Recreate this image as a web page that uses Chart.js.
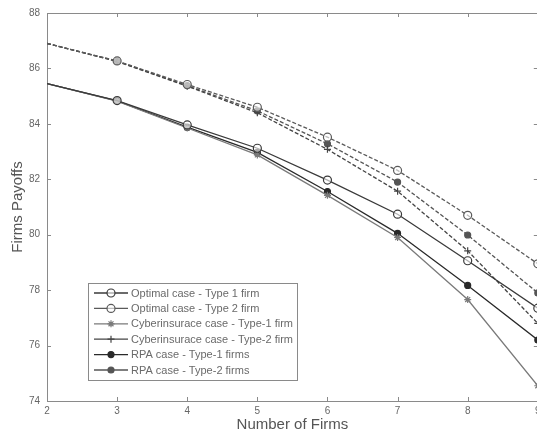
<!DOCTYPE html>
<html lang="en">
<head>
<meta charset="UTF-8">
<title>Firms Payoffs vs Number of Firms</title>
<script src="https://cdn.jsdelivr.net/npm/chart.js"></script>
<style>
  html, body { margin: 0; padding: 0; background: #fff; overflow: hidden; }
  #wrap { width: 543px; height: 436px; }
</style>
</head>
<body>
<div id="wrap"><canvas id="payoffChart" width="543" height="436"></canvas></div>
<script>
// values
const firms = [2, 3, 4, 5, 6, 7, 8, 9];
const optimalType1 = [85.45, 84.84, 83.96, 83.12, 81.97, 80.74, 79.06, 77.35];
const optimalType2 = [86.9, 86.27, 85.42, 84.6, 83.52, 82.32, 80.7, 78.95];
const cyberType1 = [85.45, 84.82, 83.85, 82.88, 81.42, 79.9, 77.66, 74.55];
const cyberType2 = [86.9, 86.25, 85.36, 84.4, 83.08, 81.57, 79.42, 76.8];
const rpaType1 = [85.45, 84.83, 83.88, 82.97, 81.56, 80.05, 78.17, 76.2];
const rpaType2 = [86.9, 86.26, 85.38, 84.47, 83.28, 81.9, 79.99, 77.9];
const yTicks = [74, 76, 78, 80, 82, 84, 86, 88];

const labels = [
  'Optimal case - Type 1 firm',
  'Optimal case - Type 2 firm',
  'Cyberinsurace case - Type-1 firm',
  'Cyberinsurace case - Type-2 firm',
  'RPA case - Type-1 firms',
  'RPA case - Type-2 firms'
];

const FONT = '"Liberation Sans", Arial, sans-serif';

function pts(vals) {
  return vals.map((v, i) => ({ x: firms[i], y: v }));
}

function series(label, vals, color, marker, filled, dashed, radius) {
  return {
    label: label,
    data: pts(vals),
    borderColor: color,
    backgroundColor: filled ? color : '#ffffff',
    pointBorderColor: color,
    pointBackgroundColor: filled ? color : 'rgba(255,255,255,0.6)',
    pointStyle: marker,
    // no marker sits on the left axis in the original
    pointRadius: firms.map(f => (f === 2 ? 0 : radius)),
    legendRadius: radius,
    pointBorderWidth: 1.2,
    borderWidth: 1.3,
    borderDash: dashed ? [4, 2] : [],
    tension: 0
  };
}

const datasets = [
  series(labels[0], optimalType1, '#3a3a3a', 'circle', false, false, 4),
  series(labels[1], optimalType2, '#5a5a5a', 'circle', false, true, 4),
  series(labels[2], cyberType1, '#7a7a7a', 'star', false, false, 3.5),
  series(labels[3], cyberType2, '#444444', 'cross', false, true, 3.5),
  series(labels[4], rpaType1, '#2a2a2a', 'circle', true, false, 3),
  series(labels[5], rpaType2, '#555555', 'circle', true, true, 3)
];

// frame with inward ticks (matlab look) and the boxed legend inside the plot
const frameAndLegend = {
  id: 'frameAndLegend',
  beforeDatasetsDraw(chart) {
    const ctx = chart.ctx;
    const a = chart.chartArea;
    const xs = chart.scales.x, ys = chart.scales.y;
    ctx.save();
    ctx.strokeStyle = '#8a8a8a';
    ctx.lineWidth = 1;
    ctx.strokeRect(a.left + 0.5, a.top + 0.5, a.right - a.left, a.bottom - a.top);
    ctx.beginPath();
    firms.forEach(v => {
      const px = Math.round(xs.getPixelForValue(v)) + 0.5;
      ctx.moveTo(px, a.bottom); ctx.lineTo(px, a.bottom - 4);
      ctx.moveTo(px, a.top); ctx.lineTo(px, a.top + 4);
    });
    yTicks.forEach(v => {
      const py = Math.round(ys.getPixelForValue(v)) + 0.5;
      ctx.moveTo(a.left, py); ctx.lineTo(a.left + 4, py);
      ctx.moveTo(a.right, py); ctx.lineTo(a.right - 4, py);
    });
    ctx.stroke();
    ctx.restore();
  },
  afterDatasetsDraw(chart) {
    const ctx = chart.ctx;
    const bx = 88, by = 283, bw = 209, bh = 97;
    ctx.save();
    ctx.fillStyle = '#ffffff';
    ctx.fillRect(bx, by, bw, bh);
    ctx.strokeStyle = '#8a8a8a';
    ctx.lineWidth = 1;
    ctx.strokeRect(bx + 0.5, by + 0.5, bw, bh);
    ctx.beginPath();
    ctx.rect(bx + 1, by + 1, bw - 1, bh - 1);
    ctx.clip();
    chart.data.datasets.forEach((ds, i) => {
      const y = by + 10 + i * 15.4;
      ctx.strokeStyle = ds.borderColor;
      ctx.lineWidth = 1.3;
      ctx.setLineDash([]);
      ctx.beginPath();
      ctx.moveTo(bx + 6, y);
      ctx.lineTo(bx + 40, y);
      ctx.stroke();
      ctx.fillStyle = ds.pointBackgroundColor;
      ctx.strokeStyle = ds.pointBorderColor;
      ctx.lineWidth = 1.2;
      Chart.helpers.drawPoint(ctx, {
        pointStyle: ds.pointStyle,
        radius: ds.legendRadius,
        borderWidth: 1.2
      }, bx + 23, y);
      ctx.fillStyle = '#6a6a6a';
      ctx.font = '11px ' + FONT;
      ctx.textBaseline = 'middle';
      ctx.fillText(ds.label, bx + 43, y + 0.5);
    });
    ctx.restore();
  }
};

new Chart(document.getElementById('payoffChart'), {
  type: 'line',
  data: { datasets: datasets },
  options: {
    responsive: false,
    animation: false,
    layout: { padding: { top: 13, right: 3, left: 0, bottom: 0 } },
    plugins: {
      legend: { display: false },
      tooltip: { enabled: false }
    },
    scales: {
      x: {
        type: 'linear',
        min: 2,
        max: 9,
        grid: { display: false, drawTicks: false },
        border: { display: false },
        afterFit: s => { s.height = 35; s.paddingLeft = 0; s.paddingRight = 0; },
        ticks: {
          stepSize: 1,
          padding: 4,
          color: '#666',
          font: { family: FONT, size: 10 }
        },
        title: {
          display: true,
          text: 'Number of Firms',
          color: '#555',
          padding: { top: 0, bottom: 2 },
          font: { family: FONT, size: 15 }
        }
      },
      y: {
        min: 74,
        max: 88,
        grid: { display: false, drawTicks: false },
        border: { display: false },
        afterFit: s => { s.width = 47; s.paddingTop = 0; s.paddingBottom = 0; },
        afterBuildTicks: s => { s.ticks = yTicks.map(v => ({ value: v })); },
        ticks: {
          padding: 7,
          color: '#666',
          font: { family: FONT, size: 10 }
        },
        title: {
          display: true,
          text: 'Firms Payoffs',
          color: '#555',
          padding: { top: 9, bottom: 0 },
          font: { family: FONT, size: 15 }
        }
      }
    }
  },
  plugins: [frameAndLegend]
});
</script>
</body>
</html>
